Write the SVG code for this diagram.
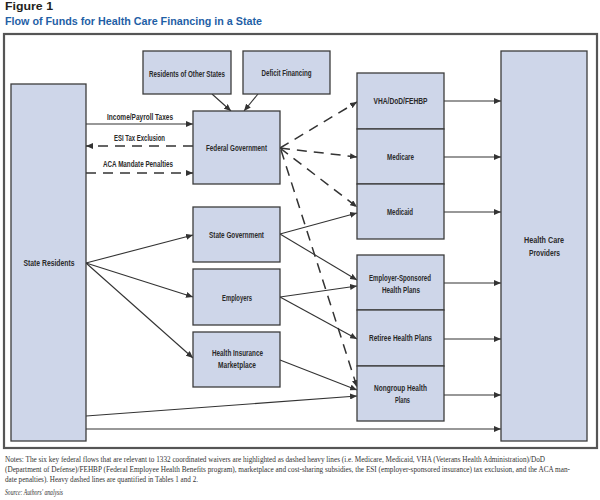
<svg xmlns="http://www.w3.org/2000/svg" width="600" height="500" viewBox="0 0 600 500">
<style>
.box{fill:#ced6e9;stroke:#3c3c3c;stroke-width:1.3}
.lbl{font-family:"Liberation Sans",Arial,sans-serif;font-weight:bold;font-size:9.5px;fill:#2a2a2a;text-anchor:middle}
.ln{stroke:#333;stroke-width:1.1;fill:none}
.dash{stroke:#333;stroke-width:1.5;fill:none;stroke-dasharray:10 7}
.note{font-family:"Liberation Serif","Times New Roman",serif;font-size:7.4px;fill:#333}
</style>
<defs>
<marker id="ah" markerUnits="userSpaceOnUse" markerWidth="8" markerHeight="6" refX="7" refY="3" orient="auto">
<path d="M0,0 L7,3 L0,6 z" fill="#333"/>
</marker>
</defs>
<rect width="600" height="500" fill="#fff"/>
<text x="5" y="10" font-family="Liberation Sans,Arial,sans-serif" font-weight="bold" font-size="10" fill="#231f20" textLength="48" lengthAdjust="spacingAndGlyphs">Figure 1</text>
<text x="5" y="25" font-family="Liberation Sans,Arial,sans-serif" font-weight="bold" font-size="10.5" fill="#1f5fa6" textLength="257" lengthAdjust="spacingAndGlyphs">Flow of Funds for Health Care Financing in a State</text>
<rect x="4" y="34" width="593" height="414" fill="none" stroke="#555" stroke-width="2.2"/>

<g id="connectors">
<line class="ln" x1="212" y1="94" x2="231" y2="111" marker-end="url(#ah)"/>
<line class="ln" x1="258" y1="94" x2="244" y2="111" marker-end="url(#ah)"/>
<line class="ln" x1="86" y1="124" x2="193" y2="124" marker-end="url(#ah)"/>
<line class="dash" x1="193" y1="146" x2="86" y2="146" marker-end="url(#ah)"/>
<line class="dash" x1="86" y1="173" x2="193" y2="173" marker-end="url(#ah)"/>
<line class="dash" x1="280" y1="148" x2="357" y2="102" marker-end="url(#ah)"/>
<line class="dash" x1="280" y1="148" x2="357" y2="157" marker-end="url(#ah)"/>
<line class="dash" x1="280" y1="148" x2="357" y2="207" marker-end="url(#ah)"/>
<line class="dash" x1="281" y1="150" x2="357" y2="387" marker-end="url(#ah)"/>
<line class="ln" x1="86" y1="263" x2="193" y2="235" marker-end="url(#ah)"/>
<line class="ln" x1="86" y1="263" x2="193" y2="297" marker-end="url(#ah)"/>
<line class="ln" x1="86" y1="263" x2="193" y2="358" marker-end="url(#ah)"/>
<line class="ln" x1="86" y1="416" x2="357" y2="396" marker-end="url(#ah)"/>
<line class="ln" x1="86" y1="429" x2="501" y2="429" marker-end="url(#ah)"/>
<line class="ln" x1="280" y1="234" x2="357" y2="213" marker-end="url(#ah)"/>
<line class="ln" x1="280" y1="234" x2="357" y2="280" marker-end="url(#ah)"/>
<line class="ln" x1="280" y1="297" x2="357" y2="286" marker-end="url(#ah)"/>
<line class="ln" x1="280" y1="297" x2="357" y2="339" marker-end="url(#ah)"/>
<line class="ln" x1="280" y1="360" x2="357" y2="390" marker-end="url(#ah)"/>
<line class="ln" x1="444" y1="101" x2="501" y2="101" marker-end="url(#ah)"/>
<line class="ln" x1="444" y1="157" x2="501" y2="157" marker-end="url(#ah)"/>
<line class="ln" x1="444" y1="212" x2="501" y2="212" marker-end="url(#ah)"/>
<line class="ln" x1="444" y1="283" x2="501" y2="283" marker-end="url(#ah)"/>
<line class="ln" x1="444" y1="339" x2="501" y2="339" marker-end="url(#ah)"/>
<line class="ln" x1="444" y1="395" x2="501" y2="395" marker-end="url(#ah)"/>
<text class="lbl" x="140" y="120" textLength="66" lengthAdjust="spacingAndGlyphs">Income/Payroll Taxes</text>
<text class="lbl" x="139.5" y="141" textLength="51" lengthAdjust="spacingAndGlyphs">ESI Tax Exclusion</text>
<text class="lbl" x="138" y="167" textLength="70" lengthAdjust="spacingAndGlyphs">ACA Mandate Penalties</text>
</g>

<g id="residents-other-states"><rect class="box" x="143" y="51" width="88" height="43"/><text class="lbl" x="187" y="76.5" textLength="76" lengthAdjust="spacingAndGlyphs">Residents of Other States</text></g>
<g id="deficit-financing"><rect class="box" x="243" y="51" width="87" height="43"/><text class="lbl" x="286.5" y="76" textLength="50" lengthAdjust="spacingAndGlyphs">Deficit Financing</text></g>
<g id="federal-government"><rect class="box" x="193" y="111" width="87" height="73"/><text class="lbl" x="236.5" y="151" textLength="61" lengthAdjust="spacingAndGlyphs">Federal Government</text></g>
<g id="state-residents"><rect class="box" x="11" y="84" width="75" height="357"/><text class="lbl" x="49" y="266" textLength="51" lengthAdjust="spacingAndGlyphs">State Residents</text></g>
<g id="state-government"><rect class="box" x="193" y="207" width="87" height="55"/><text class="lbl" x="236.5" y="238" textLength="55" lengthAdjust="spacingAndGlyphs">State Government</text></g>
<g id="employers"><rect class="box" x="193" y="269" width="87" height="56"/><text class="lbl" x="237" y="301" textLength="30" lengthAdjust="spacingAndGlyphs">Employers</text></g>
<g id="marketplace"><rect class="box" x="193" y="332" width="87" height="55"/><text class="lbl" x="237.5" y="356" textLength="51" lengthAdjust="spacingAndGlyphs">Health Insurance</text><text class="lbl" x="237" y="368" textLength="38" lengthAdjust="spacingAndGlyphs">Marketplace</text></g>
<g id="vha"><rect class="box" x="357" y="73" width="87" height="56"/><text class="lbl" x="400.5" y="104" textLength="54" lengthAdjust="spacingAndGlyphs">VHA/DoD/FEHBP</text></g>
<g id="medicare"><rect class="box" x="357" y="129" width="87" height="55"/><text class="lbl" x="400.5" y="160" textLength="27" lengthAdjust="spacingAndGlyphs">Medicare</text></g>
<g id="medicaid"><rect class="box" x="357" y="184" width="87" height="55"/><text class="lbl" x="400" y="215" textLength="26" lengthAdjust="spacingAndGlyphs">Medicaid</text></g>
<g id="employer-sponsored"><rect class="box" x="357" y="255" width="87" height="55"/><text class="lbl" x="400" y="281" textLength="62" lengthAdjust="spacingAndGlyphs">Employer-Sponsored</text><text class="lbl" x="401" y="293" textLength="38" lengthAdjust="spacingAndGlyphs">Health Plans</text></g>
<g id="retiree"><rect class="box" x="357" y="310" width="87" height="56"/><text class="lbl" x="400.5" y="341" textLength="63" lengthAdjust="spacingAndGlyphs">Retiree Health Plans</text></g>
<g id="nongroup"><rect class="box" x="357" y="366" width="87" height="55"/><text class="lbl" x="400.5" y="391" textLength="53" lengthAdjust="spacingAndGlyphs">Nongroup Health</text><text class="lbl" x="402.5" y="403" textLength="15" lengthAdjust="spacingAndGlyphs">Plans</text></g>
<g id="providers"><rect class="box" x="501" y="51" width="86" height="390"/><text class="lbl" x="544" y="243" textLength="40" lengthAdjust="spacingAndGlyphs">Health Care</text><text class="lbl" x="544.5" y="256" textLength="31" lengthAdjust="spacingAndGlyphs">Providers</text></g>

<text class="note" x="5" y="462" textLength="540" lengthAdjust="spacingAndGlyphs">Notes:  The six key federal flows that are relevant to 1332 coordinated waivers are highlighted as dashed heavy lines (i.e. Medicare, Medicaid, VHA (Veterans Health Administration)/DoD</text>
<text class="note" x="5" y="472" textLength="565" lengthAdjust="spacingAndGlyphs">(Department of Defense)/FEHBP (Federal Employee Health Benefits program), marketplace and cost-sharing subsidies, the ESI (employer-sponsored insurance) tax exclusion, and the ACA man-</text>
<text class="note" x="5" y="482" textLength="193" lengthAdjust="spacingAndGlyphs">date penalties). Heavy dashed lines are quantified in Tables 1 and 2.</text>
<text class="note" x="5" y="495" font-style="italic" textLength="58" lengthAdjust="spacingAndGlyphs">Source: Authors' analysis</text>
</svg>
